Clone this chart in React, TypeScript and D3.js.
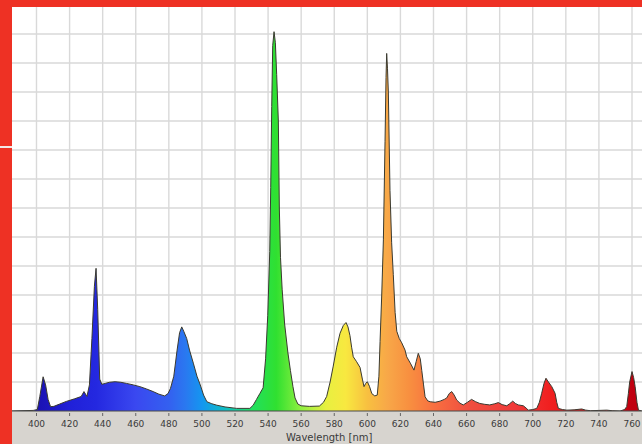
import { useMemo } from "react";
import * as d3 from "d3";

// wavelength [nm] and relative intensity (grid units)
const wavelengths = [
  385, 398, 400.5, 402, 404, 405.5, 407, 408.5, 410.5, 414, 418, 423, 427, 428.7, 430.5, 432, 433.5, 435, 436, 437,
  438.2, 439.5, 441.5, 444, 447.5, 451, 454.5, 458.5, 462.5, 466.5, 470.5, 474, 477.5, 479.5, 481, 483, 485, 486.5,
  487.8, 489, 490.8, 492.5, 494.8, 497, 499, 501, 503, 506, 509, 514, 521, 529, 531, 533, 535, 537, 538.5, 539.8, 541,
  541.6, 542.2, 542.8, 543.6, 544.4, 545.2, 546.2, 546.8, 547.5, 548.5, 550, 552, 553.5, 555, 556.3, 558, 560, 565,
  571, 573.5, 575.4, 577.5, 579.4, 581.5, 583.5, 585.5, 587.1, 588.3, 589.5, 590.5, 591.5, 593.5, 595.6, 597, 598,
  599, 600, 601.3, 602.7, 604.5, 606, 607, 607.7, 608.7, 609.7, 610.7, 611.3, 611.7, 612.2, 612.7, 613.7, 614.7,
  615.7, 616.8, 617.8, 619.3, 620.8, 622.8, 623.8, 626, 628.2, 629.5, 630.8, 632, 632.9, 634, 634.9, 636.5, 638, 641,
  644, 646.5, 648, 649.5, 651, 652.5, 654, 656, 658, 660.5, 663, 665.5, 668, 671, 674, 677, 679.2, 681.5, 684.3, 686,
  687.9, 689.5, 691.3, 694.3, 696, 697.3, 700, 702.4, 704, 705.4, 706.8, 708, 709.5, 711.5, 713.5, 714.5, 715.5, 718,
  720.6, 725, 729.6, 732, 735, 740, 744.7, 748, 752.8, 755.5, 756.8, 757.8, 758.6, 760, 761, 761.9, 763, 763.9, 766,
];
const intensity = [
  0, 0.02, 0.05, 0.5, 1.18, 0.9, 0.4, 0.15, 0.16, 0.24, 0.33, 0.42, 0.5, 0.67, 0.5, 0.9, 2.5, 4.3, 4.92, 3.5,
  1.1, 0.92, 0.95, 0.99, 1.01, 0.99, 0.95, 0.9, 0.84, 0.76, 0.67, 0.58, 0.52, 0.6, 0.78, 1.2, 2.1, 2.7,
  2.9, 2.75, 2.5, 2.1, 1.65, 1.2, 0.9, 0.55, 0.32, 0.25, 0.2, 0.14, 0.09, 0.09, 0.2, 0.4, 0.6, 0.8, 1.8, 3.3, 5.5,
  7.7, 10.5, 12.6, 13.08, 12.7, 11.6, 10.0, 7.0, 5.3, 4.2, 3.0, 2.0, 1.4, 0.85, 0.45, 0.24, 0.18, 0.16,
  0.17, 0.3, 0.5, 1.0, 1.55, 2.2, 2.68, 2.95, 3.05, 2.9, 2.6, 2.2, 1.87, 1.7, 1.5, 1.1, 0.84,
  0.95, 1.01, 0.85, 0.6, 0.52, 0.55, 1.2, 2.4, 4.0, 5.9, 9.3, 11.5, 12.33, 11.8, 11.0, 7.6, 5.8,
  4.7, 3.4, 2.75, 2.5, 2.35, 2.1, 1.87, 1.65, 1.41, 1.7, 1.99, 1.8, 1.4, 0.9, 0.49, 0.35, 0.32, 0.3,
  0.34, 0.4, 0.45, 0.6, 0.67, 0.55, 0.38, 0.27, 0.21, 0.3, 0.4, 0.32, 0.26, 0.23, 0.21, 0.25, 0.29, 0.22, 0.18, 0.25,
  0.34, 0.26, 0.21, 0.18, 0.1, 0.03, 0.05, 0.09, 0.3, 0.61, 0.95, 1.13, 1.0, 0.84, 0.61, 0.3, 0.09, 0.05,
  0.03, 0.04, 0.07, 0.03, 0.01, 0.02, 0.03, 0.01, 0, 0.05, 0.15, 0.6, 1.0, 1.36, 1.15, 0.84, 0.3, 0.03, 0,
];
const tickLabels = [400, 420, 440, 460, 480, 500, 520, 540, 560, 580, 600, 620, 640, 660, 680, 700, 720, 740, 760];

// colour of the fill along the wavelength axis
const stopNm = [385, 404, 420, 436, 460, 480, 490, 500, 515, 530, 545, 560, 575, 587, 600, 612, 625, 640, 660, 690, 710, 740, 760];
const stopColors = [
  "#1a0a9a", "#1c14b8", "#2020d8", "#2428e0", "#3a48f0", "#3460f0", "#2a78f0", "#1496f0", "#10c0c0", "#20e060",
  "#30e030", "#90f040", "#e8f040", "#f8e840", "#f8c040", "#f8a848", "#f89040", "#f87040", "#f05040", "#f03838",
  "#f02020", "#e01010", "#c00010",
];

const W = 642;
const H = 444;
const BORDER_L = 12;
const BORDER_T = 7;
const BASE_Y = 411;

export default function App() {
  const x = useMemo(() => d3.scaleLinear().domain([400, 760]).range([36.5, 632]), []);
  const y = useMemo(() => d3.scaleLinear().domain([0, 14]).range([BASE_Y, 5]), []);

  const points = wavelengths.map((w, i) => [w, intensity[i]] as [number, number]);
  const area = d3.area<[number, number]>().x((d) => x(d[0])).y0(BASE_Y).y1((d) => y(d[1]))(points) || "";
  const line = d3.line<[number, number]>().x((d) => x(d[0])).y((d) => y(d[1]))(points) || "";

  const vGrid = d3.range(380, 780, 20);
  const hGrid = d3.range(1, 15);

  return (
    <svg width={W} height={H} style={{ position: "absolute", left: 0, top: 0, display: "block" }}
      fontFamily="'DejaVu Sans', Verdana, sans-serif">
      <defs>
        <linearGradient id="spec" gradientUnits="userSpaceOnUse" x1={x(385)} x2={x(766)} y1={0} y2={0}>
          {stopNm.map((nm, i) => (
            <stop key={nm} offset={(nm - 385) / (766 - 385)} stopColor={stopColors[i]} />
          ))}
        </linearGradient>
      </defs>

      <rect x={0} y={0} width={W} height={H} fill="#fff" />

      {/* grid */}
      <g stroke="#d9d9d9" strokeWidth={1.4}>
        {vGrid.map((v) => (
          <line key={v} x1={x(v)} x2={x(v)} y1={0} y2={BASE_Y} />
        ))}
        {hGrid.map((v) => (
          <line key={v} x1={0} x2={W} y1={y(v)} y2={y(v)} />
        ))}
      </g>

      {/* spectrum */}
      <path d={area} fill="url(#spec)" />
      <path d={line} fill="none" stroke="#3a3a30" strokeWidth={1} strokeLinejoin="round" />

      {/* axis band */}
      <rect x={0} y={BASE_Y} width={W} height={H - BASE_Y} fill="#d7d4cf" />
      <line x1={0} x2={W} y1={BASE_Y} y2={BASE_Y} stroke="#4a4a4a" strokeWidth={1} />
      <g>
        {tickLabels.map((t) => (
          <g key={t} transform={`translate(${x(t)},0)`}>
            <line y1={BASE_Y + 2} y2={BASE_Y + 5} stroke="#666" strokeWidth={1} />
            <text y={427} textAnchor="middle" fontSize={9} fill="#3a3a3a">{t}</text>
          </g>
        ))}
      </g>
      <text x={x(580) - 5} y={441} textAnchor="middle" fontSize={10} fill="#3a3a3a">Wavelength [nm]</text>

      {/* red frame */}
      <rect x={0} y={0} width={W} height={BORDER_T} fill="#ee3124" />
      <rect x={0} y={0} width={BORDER_L} height={H} fill="#ee3124" />
      <rect x={0} y={146} width={BORDER_L} height={2} fill="#f4e8e6" />
    </svg>
  );
}
